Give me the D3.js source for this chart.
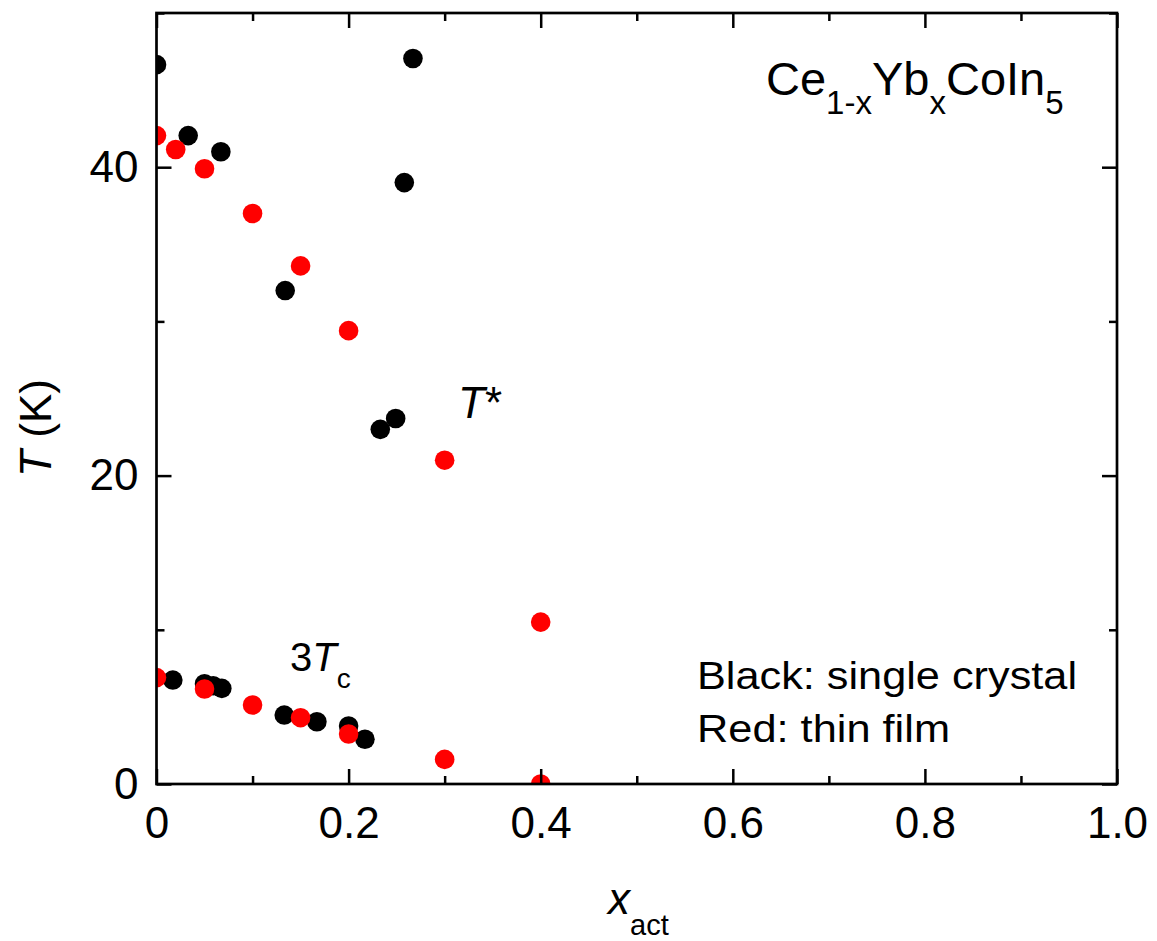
<!DOCTYPE html>
<html>
<head>
<meta charset="utf-8">
<script src="https://cdn.jsdelivr.net/npm/d3@7"></script>
<style>
  body { margin: 0; background: #fff; }
  svg { display: block; font-family: "Liberation Sans", Arial, sans-serif; }
  .axis text { font-size: 44px; fill: #000; }
  .axis line { stroke: #000; stroke-width: 2.5; }
  .axis path { display: none; }
</style>
</head>
<body>
<svg id="chart" width="1157" height="941"></svg>
<script>
// single crystal (black)
const crystalStarX = [0, 0.033, 0.067, 0.134, 0.233, 0.249, 0.258, 0.267];
const crystalStarT = [46.65, 42.05, 41.0, 32.0, 23.0, 23.7, 39.0, 47.05];
const crystalTcX = [0.017, 0.050, 0.059, 0.068, 0.133, 0.167, 0.200, 0.217];
const crystalTcT = [6.74, 6.5, 6.37, 6.2, 4.47, 4.04, 3.76, 2.9];

// thin film (red)
const filmStarX = [0, 0.02, 0.05, 0.1, 0.15, 0.2, 0.3, 0.4];
const filmStarT = [42.05, 41.15, 39.9, 37.0, 33.6, 29.4, 21.0, 10.5];
const filmTcX = [0, 0.05, 0.1, 0.15, 0.2, 0.3, 0.4];
const filmTcT = [6.9, 6.16, 5.12, 4.3, 3.24, 1.6, 0];

const xMajor = [0, 0.2, 0.4, 0.6, 0.8, 1.0];
const xMinor = [0.1, 0.3, 0.5, 0.7, 0.9];
const xLabels = ["0", "0.2", "0.4", "0.6", "0.8", "1.0"];
const yMajor = [0, 20, 40];
const yMinor = [10, 30, 50];

const svg = d3.select("#chart");
const plotLeft = 156.5, plotRight = 1117, plotTop = 13, plotBottom = 784;

const x = d3.scaleLinear().domain([0, 1]).range([plotLeft, plotRight]);
const y = d3.scaleLinear().domain([0, 50]).range([plotBottom, plotTop]);

const pts = (xs, ys) => xs.map((d, i) => ({ x: d, t: ys[i] }));
const black = pts(crystalStarX, crystalStarT).concat(pts(crystalTcX, crystalTcT));
const red = pts(filmStarX, filmStarT).concat(pts(filmTcX, filmTcT));

svg.append("clipPath").attr("id", "clip")
    .append("rect")
    .attr("x", plotLeft).attr("y", plotTop)
    .attr("width", plotRight - plotLeft).attr("height", plotBottom - plotTop);

const marks = svg.append("g").attr("clip-path", "url(#clip)");
const r = 9.8;

marks.selectAll("circle.black")
    .data(black)
    .join("circle")
    .attr("class", "black")
    .attr("cx", d => x(d.x))
    .attr("cy", d => y(d.t))
    .attr("r", r)
    .attr("fill", "#000");

marks.selectAll("circle.red")
    .data(red)
    .join("circle")
    .attr("class", "red")
    .attr("cx", d => x(d.x))
    .attr("cy", d => y(d.t))
    .attr("r", r)
    .attr("fill", "#ff0000");

// axes: inward ticks, mirrored on top and right
const fmt = d => xLabels[xMajor.indexOf(d)];

svg.append("g").attr("class", "axis")
    .attr("transform", `translate(0,${plotBottom})`)
    .call(d3.axisBottom(x).tickValues(xMajor).tickSize(-15).tickPadding(23).tickFormat(fmt));
svg.append("g").attr("class", "axis")
    .attr("transform", `translate(0,${plotBottom})`)
    .call(d3.axisBottom(x).tickValues(xMinor).tickSize(-8).tickFormat(""));
svg.append("g").attr("class", "axis")
    .attr("transform", `translate(0,${plotTop})`)
    .call(d3.axisTop(x).tickValues(xMajor).tickSize(-15).tickFormat(""));
svg.append("g").attr("class", "axis")
    .attr("transform", `translate(0,${plotTop})`)
    .call(d3.axisTop(x).tickValues(xMinor).tickSize(-8).tickFormat(""));

svg.append("g").attr("class", "axis")
    .attr("transform", `translate(${plotLeft},0)`)
    .call(d3.axisLeft(y).tickValues(yMajor).tickSize(-15).tickPadding(18).tickFormat(d3.format("d")));
svg.append("g").attr("class", "axis")
    .attr("transform", `translate(${plotLeft},0)`)
    .call(d3.axisLeft(y).tickValues(yMinor).tickSize(-8).tickFormat(""));
svg.append("g").attr("class", "axis")
    .attr("transform", `translate(${plotRight},0)`)
    .call(d3.axisRight(y).tickValues(yMajor).tickSize(-15).tickFormat(""));
svg.append("g").attr("class", "axis")
    .attr("transform", `translate(${plotRight},0)`)
    .call(d3.axisRight(y).tickValues(yMinor).tickSize(-8).tickFormat(""));

// frame
svg.append("rect")
    .attr("x", plotLeft).attr("y", plotTop)
    .attr("width", plotRight - plotLeft).attr("height", plotBottom - plotTop)
    .attr("fill", "none")
    .attr("stroke", "#000")
    .attr("stroke-width", 2.7);

// axis titles
const xt = svg.append("text")
    .attr("x", 608).attr("y", 914)
    .style("font-size", "44px");
xt.append("tspan").style("font-style", "italic").text("x");
xt.append("tspan").attr("dy", 21).style("font-size", "29px").text("act");

const yt = svg.append("text")
    .attr("transform", "translate(51,428) rotate(-90)")
    .attr("text-anchor", "middle")
    .style("font-size", "44px");
yt.append("tspan").style("font-style", "italic").text("T");
yt.append("tspan").text(" (K)");

// compound name
const title = svg.append("text")
    .attr("x", 766).attr("y", 95)
    .style("font-size", "47px");
title.append("tspan").text("Ce");
title.append("tspan").attr("dy", 19).style("font-size", "33px").text("1-x");
title.append("tspan").attr("dy", -19).text("Yb");
title.append("tspan").attr("dy", 19).style("font-size", "33px").text("x");
title.append("tspan").attr("dy", -19).text("CoIn");
title.append("tspan").attr("dy", 19).style("font-size", "33px").text("5");

// annotations
const ts = svg.append("text")
    .attr("x", 458).attr("y", 418)
    .style("font-size", "44px");
ts.append("tspan").style("font-style", "italic").text("T");
ts.append("tspan").text("*");

const tc = svg.append("text")
    .attr("x", 290).attr("y", 671)
    .style("font-size", "40px");
tc.append("tspan").text("3");
tc.append("tspan").style("font-style", "italic").text("T");
tc.append("tspan").attr("dy", 17).style("font-size", "28px").text("c");

svg.append("text")
    .attr("x", 697).attr("y", 689)
    .style("font-size", "38px")
    .attr("textLength", 380).attr("lengthAdjust", "spacingAndGlyphs")
    .text("Black: single crystal");
svg.append("text")
    .attr("x", 697).attr("y", 742)
    .style("font-size", "38px")
    .attr("textLength", 253).attr("lengthAdjust", "spacingAndGlyphs")
    .text("Red: thin film");
</script>
</body>
</html>
